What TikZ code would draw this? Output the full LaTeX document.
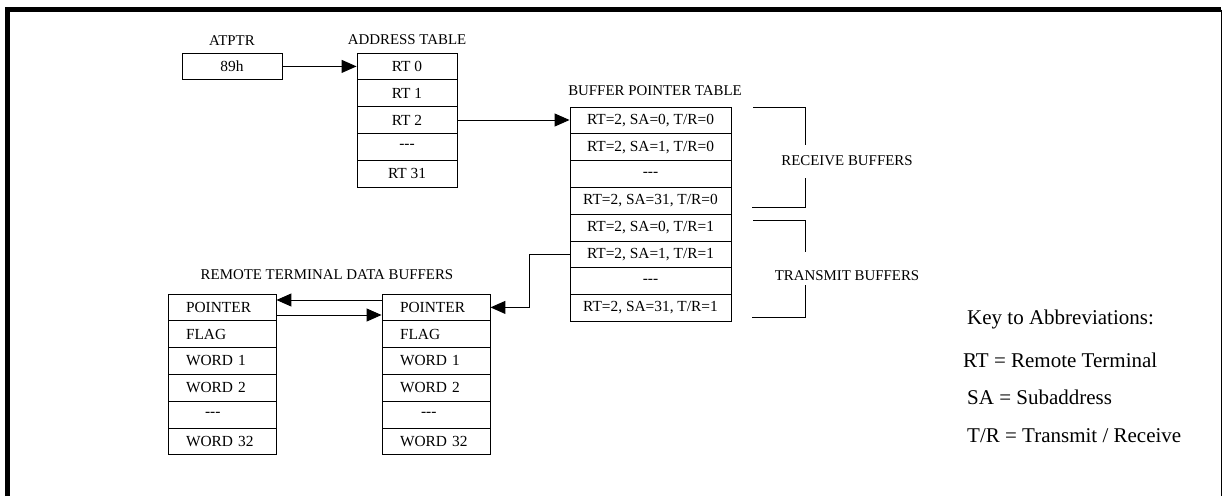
\documentclass[tikz,border=0pt]{standalone}
\usepackage{fontspec}
\setmainfont{Liberation Serif}
\usetikzlibrary{arrows.meta,calc}
\newcommand{\tdash}{-{}-{}-}
\begin{document}
\begin{tikzpicture}[x=1pt,y=-1pt,
  cell/.style={draw,line width=0.9pt,minimum height=26.8pt,inner sep=0pt,font=\fontsize{15.4}{18}\selectfont},
  atcell/.style={cell,minimum width=100pt},
  bpcell/.style={cell,minimum width=161pt},
  dbcell/.style={cell,minimum width=108pt,text width=72pt,inner xsep=18pt,align=left},
  lbl/.style={font=\fontsize{14.9}{17}\selectfont,anchor=base,inner sep=0pt},
  keytxt/.style={font=\fontsize{21}{25}\selectfont,anchor=base west,inner sep=0pt},
  arr/.style={line width=1pt,-{Triangle[length=15pt,width=13pt]}},
  brk/.style={line width=0.9pt}]
\useasboundingbox (0,0) rectangle (1222,496);
% frame
\draw[line width=5pt] (7.5,496) -- (7.5,9.5) -- (1221,9.5);
\draw[line width=1pt] (1221,9.5) -- (1221,496);

% ATPTR
\node[lbl] (atplbl) at (232,45) {ATPTR};
\node[atcell] (atp) at (232,66.4) {89h};

% Address table
\node[lbl] (atlbl) at (407,44.3) {ADDRESS TABLE};
\node[atcell] (at0) at (407,66.4) {RT 0};
\node[atcell] (at1) at (407,93.2) {RT 1};
\node[atcell] (at2) at (407,120.0) {RT 2};
\node[atcell] (at3) at (407,146.8) {\tdash};
\node[atcell] (at4) at (407,173.6) {RT 31};

% Buffer pointer table
\node[lbl] (bplbl) at (655,95) {BUFFER POINTER TABLE};
\node[bpcell] (bp0) at (650.5,120.4) {RT=2, SA=0, T/R=0};
\node[bpcell] (bp1) at (650.5,147.2) {RT=2, SA=1, T/R=0};
\node[bpcell] (bp2) at (650.5,174.0) {\tdash};
\node[bpcell] (bp3) at (650.5,200.8) {RT=2, SA=31, T/R=0};
\node[bpcell] (bp4) at (650.5,227.6) {RT=2, SA=0, T/R=1};
\node[bpcell] (bp5) at (650.5,254.4) {RT=2, SA=1, T/R=1};
\node[bpcell] (bp6) at (650.5,281.2) {\tdash};
\node[bpcell] (bp7) at (650.5,308.0) {RT=2, SA=31, T/R=1};

% brackets
\node[lbl] (recv) at (847,165) {RECEIVE BUFFERS};
\node[lbl] (xmit) at (847,280) {TRANSMIT BUFFERS};
\coordinate (ra) at (753,107);
\coordinate (rb) at (805,145);
\coordinate (rc) at (805,178);
\coordinate (rd) at (752,207);
\draw[brk] (ra) -- (ra -| rb) -- (rb);
\draw[brk] (rc) -- (rc |- rd) -- (rd);
\coordinate (ta) at (753,220);
\coordinate (tb) at (805,252);
\coordinate (tc) at (805,285);
\coordinate (td) at (752,317);
\draw[brk] (ta) -- (ta -| tb) -- (tb);
\draw[brk] (tc) -- (tc |- td) -- (td);

% Remote terminal data buffers
\node[lbl] (dblbl) at (327,279) {REMOTE TERMINAL DATA BUFFERS};
\node[dbcell] (lb0) at (222,307.4) {POINTER};
\node[dbcell] (lb1) at (222,334.2) {FLAG};
\node[dbcell] (lb2) at (222,361.0) {WORD 1};
\node[dbcell] (lb3) at (222,387.8) {WORD 2};
\node[dbcell] (lb4) at (222,414.6) {\hspace*{19pt}\tdash};
\node[dbcell] (lb5) at (222,441.4) {WORD 32};
\node[dbcell] (rb0) at (436,307.4) {POINTER};
\node[dbcell] (rb1) at (436,334.2) {FLAG};
\node[dbcell] (rb2) at (436,361.0) {WORD 1};
\node[dbcell] (rb3) at (436,387.8) {WORD 2};
\node[dbcell] (rb4) at (436,414.6) {\hspace*{21pt}\tdash};
\node[dbcell] (rb5) at (436,441.4) {WORD 32};

% key
\node[keytxt] (k0) at (967,324.3) {Key to Abbreviations:};
\node[keytxt] (k1) at (963,367.3) {RT = Remote Terminal};
\node[keytxt] (k2) at (967,404.3) {SA = Subaddress};
\node[keytxt] (k3) at (967,442.3) {T/R = Transmit / Receive};

% connectors
\draw[arr] (atp.east) -- (at0.west);
\draw[arr] (at2.east) -- (at2.east -| bp0.west);
\draw[arr] (bp5.west) -- ++(-40,0) |- (rb0.east);
\draw[arr] ([yshift=7.4pt]rb0.west) -- ([yshift=7.4pt]lb0.east);
\draw[arr] ([yshift=-7.6pt]lb0.east) -- ([yshift=-7.6pt]rb0.west);
\end{tikzpicture}
\end{document}
